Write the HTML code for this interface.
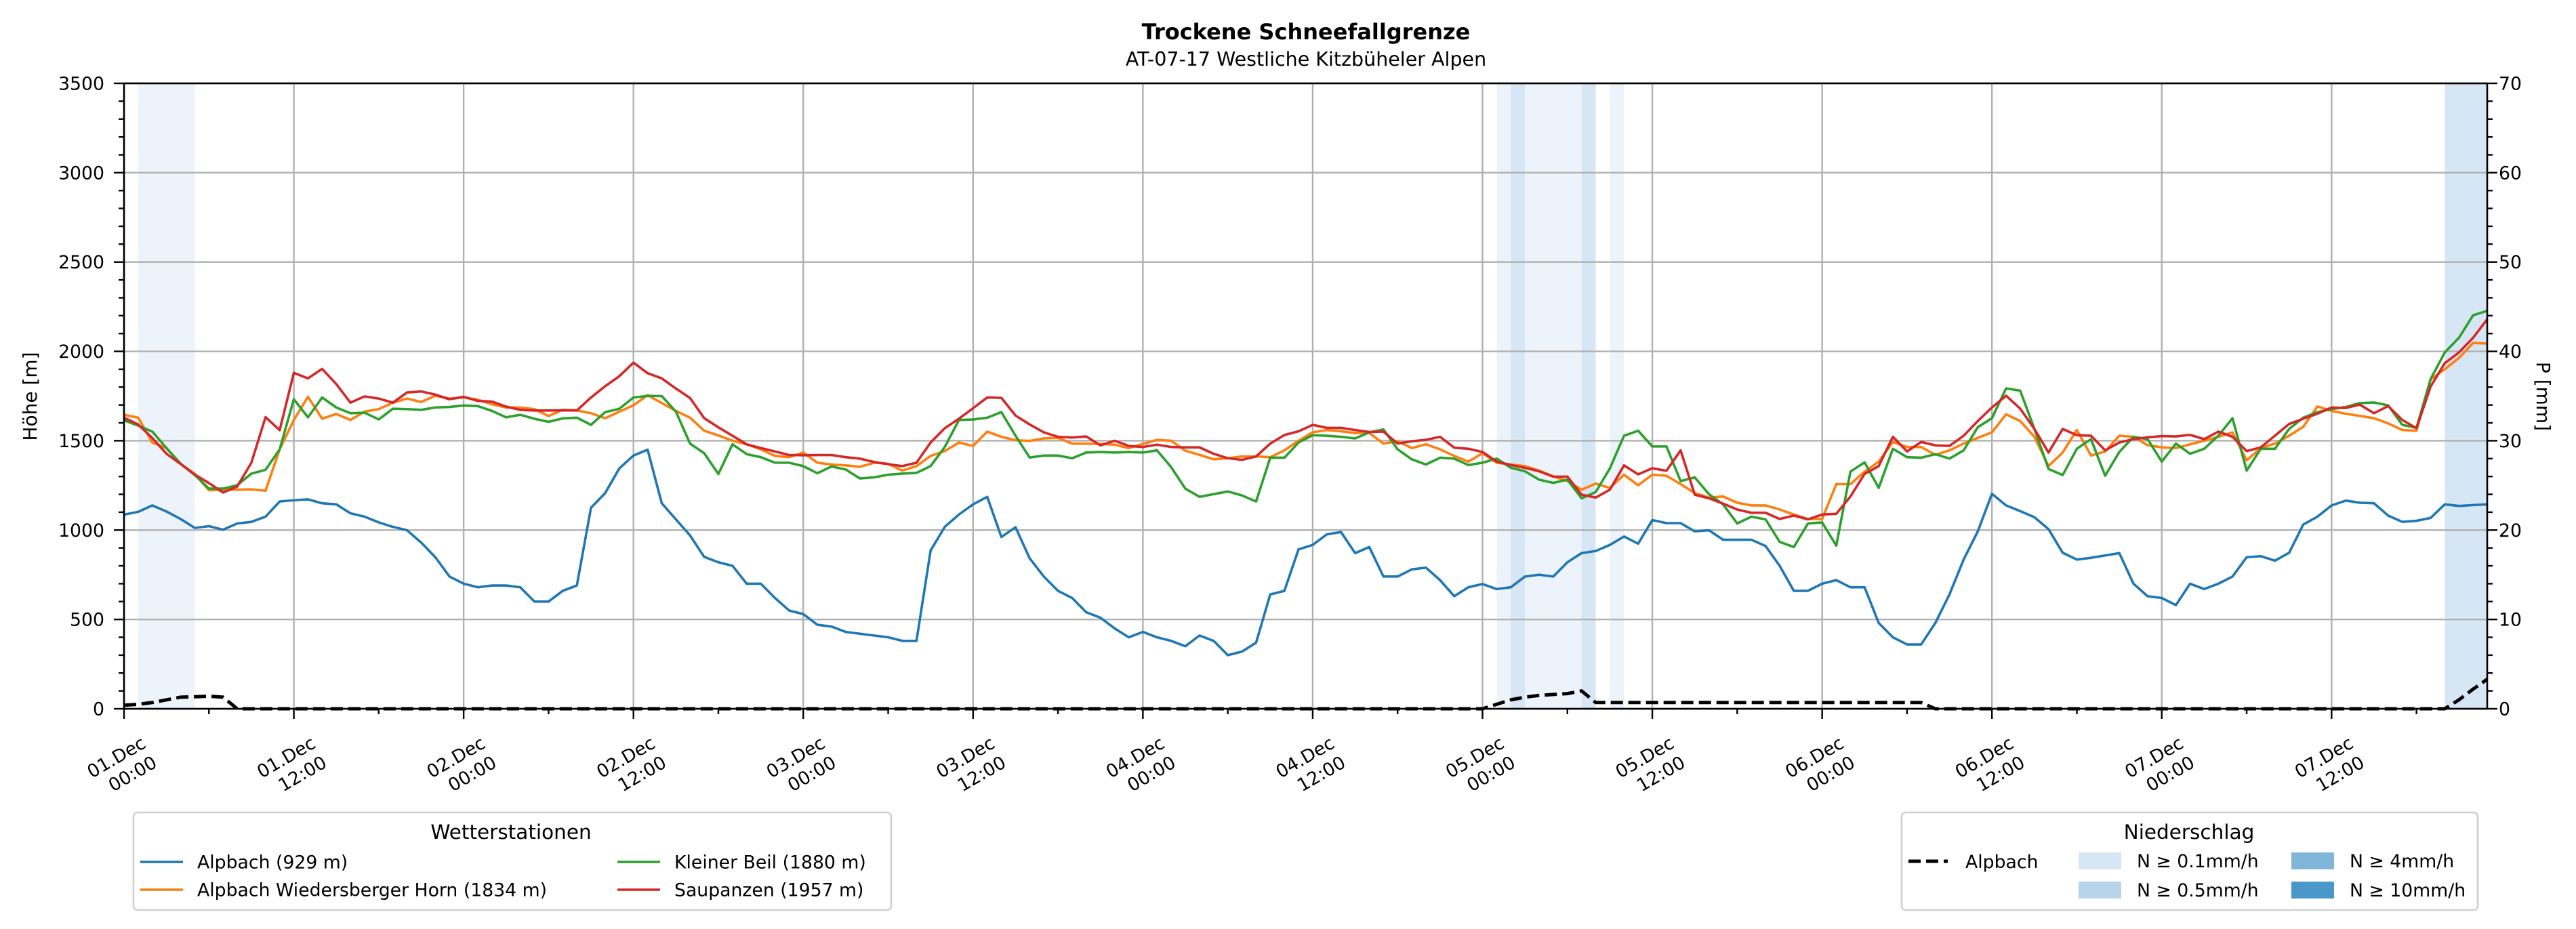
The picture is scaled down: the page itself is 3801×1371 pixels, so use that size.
<!DOCTYPE html>
<html><head><meta charset="utf-8"><title>Trockene Schneefallgrenze</title>
<style>
html,body{margin:0;padding:0;background:#fff;}
svg{display:block;font-family:"DejaVu Sans","Liberation Sans",sans-serif;}
</style></head>
<body>
<svg id="chart" xmlns="http://www.w3.org/2000/svg" width="3801" height="1371" viewBox="0 0 3801 1371"></svg>
<script>
// ---- data ----
const hourCount = 168;
const alpbach = [1087,1102,1138,1104,1062,1012,1022,1002,1037,1046,1075,1160,1167,1172,1150,1144,1094,1075,1043,1018,999,
930,848,740,700,680,690,690,680,600,600,660,690,1125,1207,1345,1417,1450,1150,1060,970,850,
820,800,700,700,620,550,530,470,460,430,420,410,400,380,380,886,1018,1087,1144,1186,961,1016,842,740,660,620,540,510,450,400,430,400,380,350,410,380,300,320,370,640,660,892,917,
976,989,871,905,740,740,780,790,720,630,680,698,670,680,740,750,740,820,871,883,917,964,924,1056,1039,1039,993,999,946,946,946,911,800,660,660,700,720,680,680,480,400,360,
360,480,640,835,993,1203,1138,1106,1072,1005,873,835,845,858,871,700,630,620,580,700,670,700,740,848,854,829,873,1031,1075,1138,1165,1153,1150,1081,1046,1052,1068,1144,1135,1140,1144];
const wiedersberger = [1645,1629,1490,1459,1371,1314,1223,1226,1226,1228,1220,1452,1616,1746,1623,1650,1616,1663,1677,1713,1736,1717,1752,1736,1742,1730,1704,1686,1686,1677,1638,1673,1670,1654,1626,1663,1698,1755,1711,1667,1629,1556,1530,
1500,1480,1452,1415,1408,1434,1377,1367,1362,1354,1377,1371,1333,1358,1415,1442,1490,1471,1551,1522,1503,1499,1513,1516,1484,1484,1482,1478,1459,1482,1505,1500,1444,1421,1396,1402,1412,1412,1408,1446,1500,1547,
1560,1553,1543,1543,1484,1497,1459,1480,1452,1415,1383,1430,1377,1367,1358,1333,1301,1274,1226,1260,1236,1310,1251,1310,1304,1257,1207,1182,1188,1153,1138,1138,1115,1087,1062,1062,1257,1257,1327,1383,1493,1465,
1465,1421,1446,1484,1516,1547,1648,1610,1522,1358,1434,1560,1417,1440,1528,1522,1475,1463,1459,1480,1500,1522,1547,1390,1459,1484,1528,1578,1692,1667,1651,1639,1626,1597,1560,1556,1843,1900,1963,2047,2044];
const kleinerBeil = [1614,1585,1551,1459,1371,1308,1232,1232,1251,1316,1337,1452,1732,1631,1742,1686,1654,1657,1619,1679,1677,1673,1686,1689,1697,1694,1667,1631,1645,1623,1606,1625,1629,1589,1660,1679,1742,1751,1750,1663,1484,1430,1314,
1480,1425,1408,1377,1377,1358,1318,1356,1339,1289,1295,1310,1316,1320,1358,1465,1616,1619,1629,1660,1528,1406,1417,1417,1402,1434,1437,1434,1437,1434,1446,1352,1232,1186,1201,1216,1194,1160,1405,1405,1490,1531,
1528,1522,1513,1547,1563,1452,1396,1367,1405,1400,1364,1377,1400,1349,1329,1282,1264,1282,1178,1213,1345,1528,1556,1468,1468,1274,1295,1201,1144,1037,1075,1060,934,905,1037,1043,913,1327,1379,1236,1455,1408,
1405,1425,1400,1446,1576,1626,1793,1780,1566,1342,1308,1455,1509,1304,1437,1522,1509,1383,1484,1427,1455,1528,1626,1333,1455,1455,1566,1629,1660,1677,1689,1711,1714,1698,1589,1572,1845,1994,2076,2202,2227];
const saupanzen = [1629,1591,1515,1427,1370,1311,1263,1210,1244,1377,1632,1559,1880,1849,1902,1817,1713,1748,1736,1713,1770,1776,1758,1732,1746,1723,1719,1691,1673,1669,1669,1670,1669,1742,1805,1861,1937,1878,1849,1792,1739,1626,1575,
1528,1480,1459,1440,1420,1419,1420,1420,1408,1400,1381,1369,1358,1377,1490,1570,1623,1682,1742,1740,1641,1591,1547,1522,1518,1524,1474,1500,1471,1465,1478,1465,1463,1463,1427,1402,1393,1412,1484,1532,1553,1589,
1572,1572,1560,1549,1551,1484,1497,1505,1522,1461,1455,1437,1383,1364,1348,1329,1299,1299,1198,1182,1226,1362,1312,1346,1332,1446,1198,1178,1148,1115,1097,1097,1062,1081,1060,1087,1091,1188,1314,1358,1522,1440,
1493,1474,1471,1528,1610,1686,1752,1679,1566,1434,1566,1531,1528,1446,1490,1509,1519,1526,1524,1533,1509,1551,1522,1442,1463,1528,1594,1623,1651,1686,1683,1702,1654,1694,1616,1570,1803,1934,1994,2076,2180];
const precipHours = [0,1,2,3,4,5,6,7,8,96,97,98,99,100,101,102,103,104,127,128,164,165,166,167];
const precipMm    = [0.4,0.5,0.7,1.0,1.3,1.35,1.4,1.3,0,0,0.5,1.0,1.3,1.5,1.6,1.7,2.0,0.7,0.7,0,0,1.0,2.2,3.3];
const spanStart = [1,97,98,99,103,105,164];
const spanEnd   = [5,98,99,103,104,106,167];
const spanClass = [0,0,1,0,1,0,1];
const leftTicks = [0,500,1000,1500,2000,2500,3000,3500];
const rightTicks = [0,10,20,30,40,50,60,70];
const xTickHours = [0,12,24,36,48,60,72,84,96,108,120,132,144,156];
const xTickDay = ["01.Dec","01.Dec","02.Dec","02.Dec","03.Dec","03.Dec","04.Dec","04.Dec","05.Dec","05.Dec","06.Dec","06.Dec","07.Dec","07.Dec"];
const xTickTime = ["00:00","12:00","00:00","12:00","00:00","12:00","00:00","12:00","00:00","12:00","00:00","12:00","00:00","12:00"];

// ---- layout ----
const NS = "http://www.w3.org/2000/svg";
const svg = document.getElementById("chart");
const L = 183, R = 3670, T = 123, B = 1046, XMAX = 167;
const xS = h => L + h * (R - L) / XMAX;
const yL = v => B - v * (B - T) / 3500;
const yR = p => B - p * (B - T) / 70;
function mk(tag, attrs, parent) {
  const e = document.createElementNS(NS, tag);
  for (const k in attrs) e.setAttribute(k, attrs[k]);
  (parent || svg).appendChild(e);
  return e;
}
function txt(str, attrs, parent) { const e = mk("text", attrs, parent); e.textContent = str; return e; }

// spans
const spanColors = ["#edf3fb", "#d6e6f4"];
const gSpans = mk("g", {});


spanStart.forEach((s, i) => {
  const r = mk("rect", {x: xS(s), y: T, width: xS(spanEnd[i]) - xS(s), height: B - T, fill: spanColors[spanClass[i]]}, gSpans);
  
  
});

// grid
const gGrid = mk("g", {stroke: "#b0b0b0", "stroke-width": 2.4});


leftTicks.forEach(v => {
  const l = mk("line", {x1: L, x2: R, y1: yL(v), y2: yL(v)}, gGrid);
  
  
});
xTickHours.forEach(h => {
  const l = mk("line", {x1: xS(h), x2: xS(h), y1: T, y2: B}, gGrid);
  
  
});

// series
const series = [
  {d: alpbach, c: "#1f77b4", n: "series-alpbach"},
  {d: wiedersberger, c: "#ff7f0e", n: "series-wiedersberger-horn"},
  {d: kleinerBeil, c: "#2ca02c", n: "series-kleiner-beil"},
  {d: saupanzen, c: "#d62728", n: "series-saupanzen"}
];
series.forEach(s => {
  const pts = s.d.map((v, i) => xS(i) + "," + yL(v)).join(" ");
  const p = mk("polyline", {points: pts, fill: "none", stroke: s.c, "stroke-width": 3.6, "stroke-linejoin": "round"});
  
  
});
// precipitation dashed line
const ppts = precipHours.map((h, i) => xS(h) + "," + yR(precipMm[i])).join(" ");
const pl = mk("polyline", {points: ppts, fill: "none", stroke: "#000", "stroke-width": 5, "stroke-dasharray": "18,8"});



// axes frame
const frame = mk("rect", {x: L, y: T, width: R - L, height: B - T, fill: "none", stroke: "#000", "stroke-width": 2.6});



// ticks
const gTicks = mk("g", {stroke: "#000", "stroke-width": 2.4});


for (let v = 0; v <= 3500; v += 100) {
  const len = v % 500 === 0 ? 15 : 8;
  mk("line", {x1: L - len, x2: L, y1: yL(v), y2: yL(v)}, gTicks);
}
for (let p = 0; p <= 70; p += 2) {
  const len = p % 10 === 0 ? 15 : 8;
  mk("line", {x1: R, x2: R + len, y1: yR(p), y2: yR(p)}, gTicks);
}
for (let h = 0; h <= XMAX; h += 6) {
  const len = h % 12 === 0 ? 15 : 8;
  mk("line", {x1: xS(h), x2: xS(h), y1: B, y2: B + len}, gTicks);
}

// tick labels
leftTicks.forEach(v => {
  const t = txt(String(v), {x: 154, y: yL(v) + 9.5, "font-size": 26.7, "text-anchor": "end"});
  
  
});
rightTicks.forEach(p => {
  const t = txt(String(p), {x: 3687, y: yR(p) + 9.5, "font-size": 26.7, "text-anchor": "start"});
  
  
});
xTickHours.forEach((h, i) => {
  const g = mk("g", {transform: "translate(" + (xS(h) + 34) + ",1102) rotate(-30)"});
  
  
  const t = mk("text", {"font-size": 26.7, "text-anchor": "end"}, g);
  const a = mk("tspan", {x: 0, y: 0}, t); a.textContent = xTickDay[i];
  const b = mk("tspan", {x: 0, y: 33}, t); b.textContent = xTickTime[i];
});

// titles
const t1 = txt("Trockene Schneefallgrenze", {x: 1927, y: 58, "font-size": 32, "font-weight": "bold", "text-anchor": "middle"});


const t2 = txt("AT-07-17 Westliche Kitzbüheler Alpen", {x: 1927, y: 97, "font-size": 28.5, "text-anchor": "middle"});


const yl = txt("Höhe [m]", {x: 0, y: 0, "font-size": 28, "text-anchor": "middle", transform: "translate(54,585) rotate(-90)"});


const yr = txt("P [mm]", {x: 0, y: 0, "font-size": 28, "text-anchor": "middle", transform: "translate(3743,585) rotate(90)"});



// legend 1
const lg1 = mk("g", {});


mk("rect", {x: 197, y: 1199, width: 1118, height: 144, rx: 6, fill: "#fff", stroke: "#d0d0d0", "stroke-width": 2.6}, lg1);
txt("Wetterstationen", {x: 754, y: 1238, "font-size": 29.5, "text-anchor": "middle"}, lg1);
const l1 = [
  {n: "Alpbach (929 m)", c: "#1f77b4", x: 207, y: 1272},
  {n: "Alpbach Wiedersberger Horn (1834 m)", c: "#ff7f0e", x: 207, y: 1313},
  {n: "Kleiner Beil (1880 m)", c: "#2ca02c", x: 911, y: 1272},
  {n: "Saupanzen (1957 m)", c: "#d62728", x: 911, y: 1313}
];
l1.forEach(e => {
  const g = mk("g", {}, lg1);
  
  
  mk("line", {x1: e.x, x2: e.x + 63, y1: e.y, y2: e.y, stroke: e.c, "stroke-width": 3.6}, g);
  txt(e.n, {x: e.x + 84, y: e.y + 9.5, "font-size": 26.7}, g);
});

// legend 2
const lg2 = mk("g", {});


mk("rect", {x: 2806, y: 1199, width: 850, height: 144, rx: 6, fill: "#fff", stroke: "#d0d0d0", "stroke-width": 2.6}, lg2);
txt("Niederschlag", {x: 3230, y: 1238, "font-size": 29.5, "text-anchor": "middle"}, lg2);
const dashG = mk("g", {}, lg2);


mk("line", {x1: 2816, x2: 2874, y1: 1271, y2: 1271, stroke: "#000", "stroke-width": 5, "stroke-dasharray": "18,8"}, dashG);
txt("Alpbach", {x: 2900, y: 1281, "font-size": 26.7}, dashG);
const l2 = [
  {n: "N ≥ 0.1mm/h", c: "#d6e6f4", x: 3067, y: 1258},
  {n: "N ≥ 0.5mm/h", c: "#b7d4ea", x: 3067, y: 1301},
  {n: "N ≥ 4mm/h", c: "#80b7d9", x: 3381, y: 1258},
  {n: "N ≥ 10mm/h", c: "#4a98c9", x: 3381, y: 1301}
];
l2.forEach(e => {
  const g = mk("g", {}, lg2);
  
  
  mk("rect", {x: e.x, y: e.y, width: 63, height: 25, fill: e.c}, g);
  txt(e.n, {x: e.x + 86, y: e.y + 22, "font-size": 26.7}, g);
});
</script>
</body></html>
